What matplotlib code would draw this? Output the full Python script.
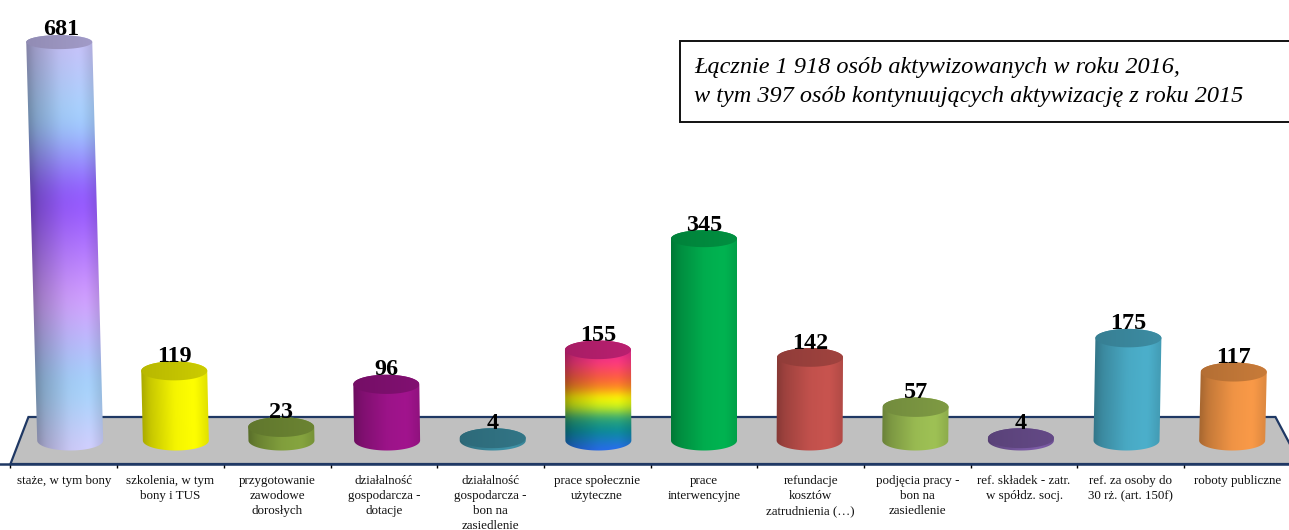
import numpy as np
import matplotlib
matplotlib.use('Agg')
import matplotlib.pyplot as plt
from matplotlib.colors import to_rgb
from matplotlib.patches import Polygon, Rectangle

plt.rcParams['font.family'] = ['Liberation Serif', 'DejaVu Serif']

categories = [
    'staże, w tym bony',
    'szkolenia, w tym\nbony i TUS',
    'przygotowanie\nzawodowe\ndorosłych',
    'działalność\ngospodarcza -\ndotacje',
    'działalność\ngospodarcza -\nbon na\nzasiedlenie',
    'prace społecznie\nużyteczne',
    'prace\ninterwencyjne',
    'refundacje\nkosztów\nzatrudnienia (…)',
    'podjęcia pracy -\nbon na\nzasiedlenie',
    'ref. składek - zatr.\nw spółdz. socj.',
    'ref. za osoby do\n30 rż. (art. 150f)',
    'roboty publiczne',
]
values = [681, 119, 23, 96, 4, 155, 345, 142, 57, 4, 175, 117]

# vertical colour stops (bottom to top) for the two gradient cylinders
lavender_pos = [0, 0.163, 0.366, 0.62, 0.805, 1]
lavender_cols = ['#d6cfff', '#a0d6fc', '#d6a2ff', '#9050ff', '#a2d6ff', '#cac2fa']
rainbow_pos = [0, 0.2, 0.32, 0.43, 0.52, 0.62, 0.72, 0.87, 1]
rainbow_cols = ['#2a6cf5', '#0a8f98', '#30a878', '#c8f020', '#ffff00', '#ff9020', '#ff6040', '#ff3a80', '#e8288c']
solid_cols = ['#ffff00', '#86a53f', '#a2148e', '#3f93a8', '#00b451', '#c9544f', '#9fc255', '#7d5ca8',
              '#4cb0cc', '#fa9a48']

box_lines = ['Łącznie 1 918 osób aktywizowanych w roku 2016,',
             'w tym 397 osób kontynuujących aktywizację z roku 2015']

W, H = 1289, 530
px_y = 0.585      # pixels per person
px_x = 106.7      # pixels per category
base_px = 440.5
navy = '#1f3864'

fig = plt.figure(figsize=(W / 100, H / 100), dpi=100)
ax = fig.add_axes([0, 0, 1, 1])
xlim = (6 - 704 / px_x, 6 + (W - 704) / px_x)
ylim = ((base_px - H) / px_y, base_px / px_y)

# floor
floor_back = (base_px - 417) / px_y
floor_front = (base_px - 464) / px_y
ax.add_patch(Polygon([(-0.5, floor_front), (-0.5 + 18 / px_x, floor_back),
                      (-0.5 + 1265 / px_x, floor_back), (-0.5 + 1290 / px_x, floor_front)],
                     closed=True, facecolor='#c0c0c0', edgecolor=navy, linewidth=1.6, zorder=1))

# category axis on the front edge of the floor
for side in ['top', 'left', 'right']:
    ax.spines[side].set_visible(False)
ax.spines['bottom'].set_position(('data', floor_front))
ax.spines['bottom'].set_color(navy)
ax.spines['bottom'].set_linewidth(1.8)
ax.spines['bottom'].set_zorder(2)
ax.set_yticks([])
ax.set_xticks(np.arange(len(values) + 1) - 0.5)
ax.set_xticklabels([])
ax.tick_params(axis='x', which='major', length=3, width=1, color='black', direction='out')
ax.set_xticks(np.arange(len(values)), minor=True)
ax.set_xticklabels(categories, minor=True, fontsize=9.4, color='#111111', linespacing=1.33)
ax.tick_params(axis='x', which='minor', length=0, pad=8.2)


def blurred_interp(s, pos, vals, sigma=0.035):
    # linear ramp through the stops, blurred so the bands have no hard kinks
    grid = np.linspace(0, 1, 801)
    line = np.interp(grid, pos, vals)
    n = int(4 * sigma * 800)
    kernel = np.exp(-0.5 * (np.arange(-n, n + 1) / (sigma * 800)) ** 2)
    kernel /= kernel.sum()
    padded = np.pad(line, n, mode='edge')
    return np.interp(s, grid, np.convolve(padded, kernel, mode='valid'))


def shade(t):
    return blurred_interp(t, [0, 0.12, 0.5, 0.8, 1], [0.66, 0.78, 0.96, 1.0, 0.88], sigma=0.03)


def ramp(pos, cols, s):
    rgb = np.array([to_rgb(c) for c in cols])
    return np.stack([blurred_interp(s, pos, rgb[:, k]) for k in range(3)], axis=-1)


def ellipse_arc(cx, cy, rx, ry, a0, a1):
    a = np.radians(np.linspace(a0, a1, 80))
    return np.column_stack([cx + rx * np.cos(a), cy + ry * np.sin(a)])


# cylinders
half_w = 33 / px_x
solid = iter(solid_cols)
for i, v in enumerate(values):
    if i == 0:
        pos, cols = lavender_pos, lavender_cols
    elif i == 5:
        pos, cols = rainbow_pos, rainbow_cols
    else:
        pos, cols = [0, 1], [next(solid)] * 2

    cx = 6 + (i - 6) * 0.99
    lean = -0.0275 * v * px_y * (6 - i) / 6 / px_x
    ry_base = 10 / px_y
    ry_top = (10 - 3 * v / 681) / px_y
    top_cx = cx + lean

    # body: gradient image clipped to the outline of the cylinder
    x0, x1 = min(cx, top_cx) - half_w - 0.02, max(cx, top_cx) + half_w + 0.02
    y0, y1 = -ry_base - 2, v + ry_top + 2
    xs = np.linspace(x0, x1, 300)
    ys = np.linspace(y0, y1, max(int((y1 - y0) * px_y * 2), 20))
    XX, YY = np.meshgrid(xs, ys)
    S = np.clip(YY / max(v, 1), 0, 1)
    T = np.clip((XX - (cx + lean * S) + half_w) / (2 * half_w), 0, 1)
    img = ramp(pos, cols, np.clip((YY + ry_base) / (v + ry_base), 0, 1)) * shade(T)[..., None]
    im = ax.imshow(np.clip(img, 0, 1), extent=(x0, x1, y0, y1), origin='lower', aspect='auto',
                   interpolation='bilinear', zorder=3)
    outline = np.vstack([ellipse_arc(cx, 0, half_w, ry_base, 180, 360),
                         ellipse_arc(top_cx, v, half_w, ry_top, 0, 180)])
    body = Polygon(outline, closed=True, facecolor='none', edgecolor='none', transform=ax.transData)
    ax.add_patch(body)
    im.set_clip_path(body)

    # top of the cylinder, a darker tone of the top colour
    y0t, y1t = v - ry_top - 2, v + ry_top + 2
    xs2 = np.linspace(top_cx - half_w, top_cx + half_w, 100)
    top_rgb = np.array(to_rgb(cols[-1])) * 0.80
    img2 = (0.9 + 0.1 * np.linspace(0, 1, 100))[None, :, None] * top_rgb[None, None, :]
    im2 = ax.imshow(np.clip(img2, 0, 1), extent=(xs2[0], xs2[-1], y0t, y1t), origin='lower', aspect='auto',
                    interpolation='bilinear', zorder=4)
    lid = Polygon(ellipse_arc(top_cx, v, half_w, ry_top, 0, 360), closed=True, facecolor='none',
                  edgecolor='none', transform=ax.transData)
    ax.add_patch(lid)
    im2.set_clip_path(lid)

    ax.text(top_cx + (1.5 / px_x if i == 0 else 0), v + ry_top * 0.95, str(v), ha='center', va='baseline',
            fontsize=17.4, fontweight='bold', color='black', zorder=5)

ax.set_xlim(xlim)
ax.set_ylim(ylim)

# text box, running off the right edge
ax.add_patch(Rectangle((679.5 / W, 1 - 122 / H), 640 / W, 81 / H, transform=ax.transAxes,
                       facecolor='white', edgecolor='#111111', linewidth=1.4, zorder=6))
ax.text(694 / W, 1 - 73 / H, box_lines[0], transform=ax.transAxes, ha='left', va='baseline',
        fontsize=17.45, fontstyle='italic', color='black', zorder=7)
ax.text(694 / W, 1 - 102 / H, box_lines[1], transform=ax.transAxes, ha='left', va='baseline',
        fontsize=17.45, fontstyle='italic', color='black', zorder=7)

plt.savefig('out.png', dpi=100)
plt.close()
